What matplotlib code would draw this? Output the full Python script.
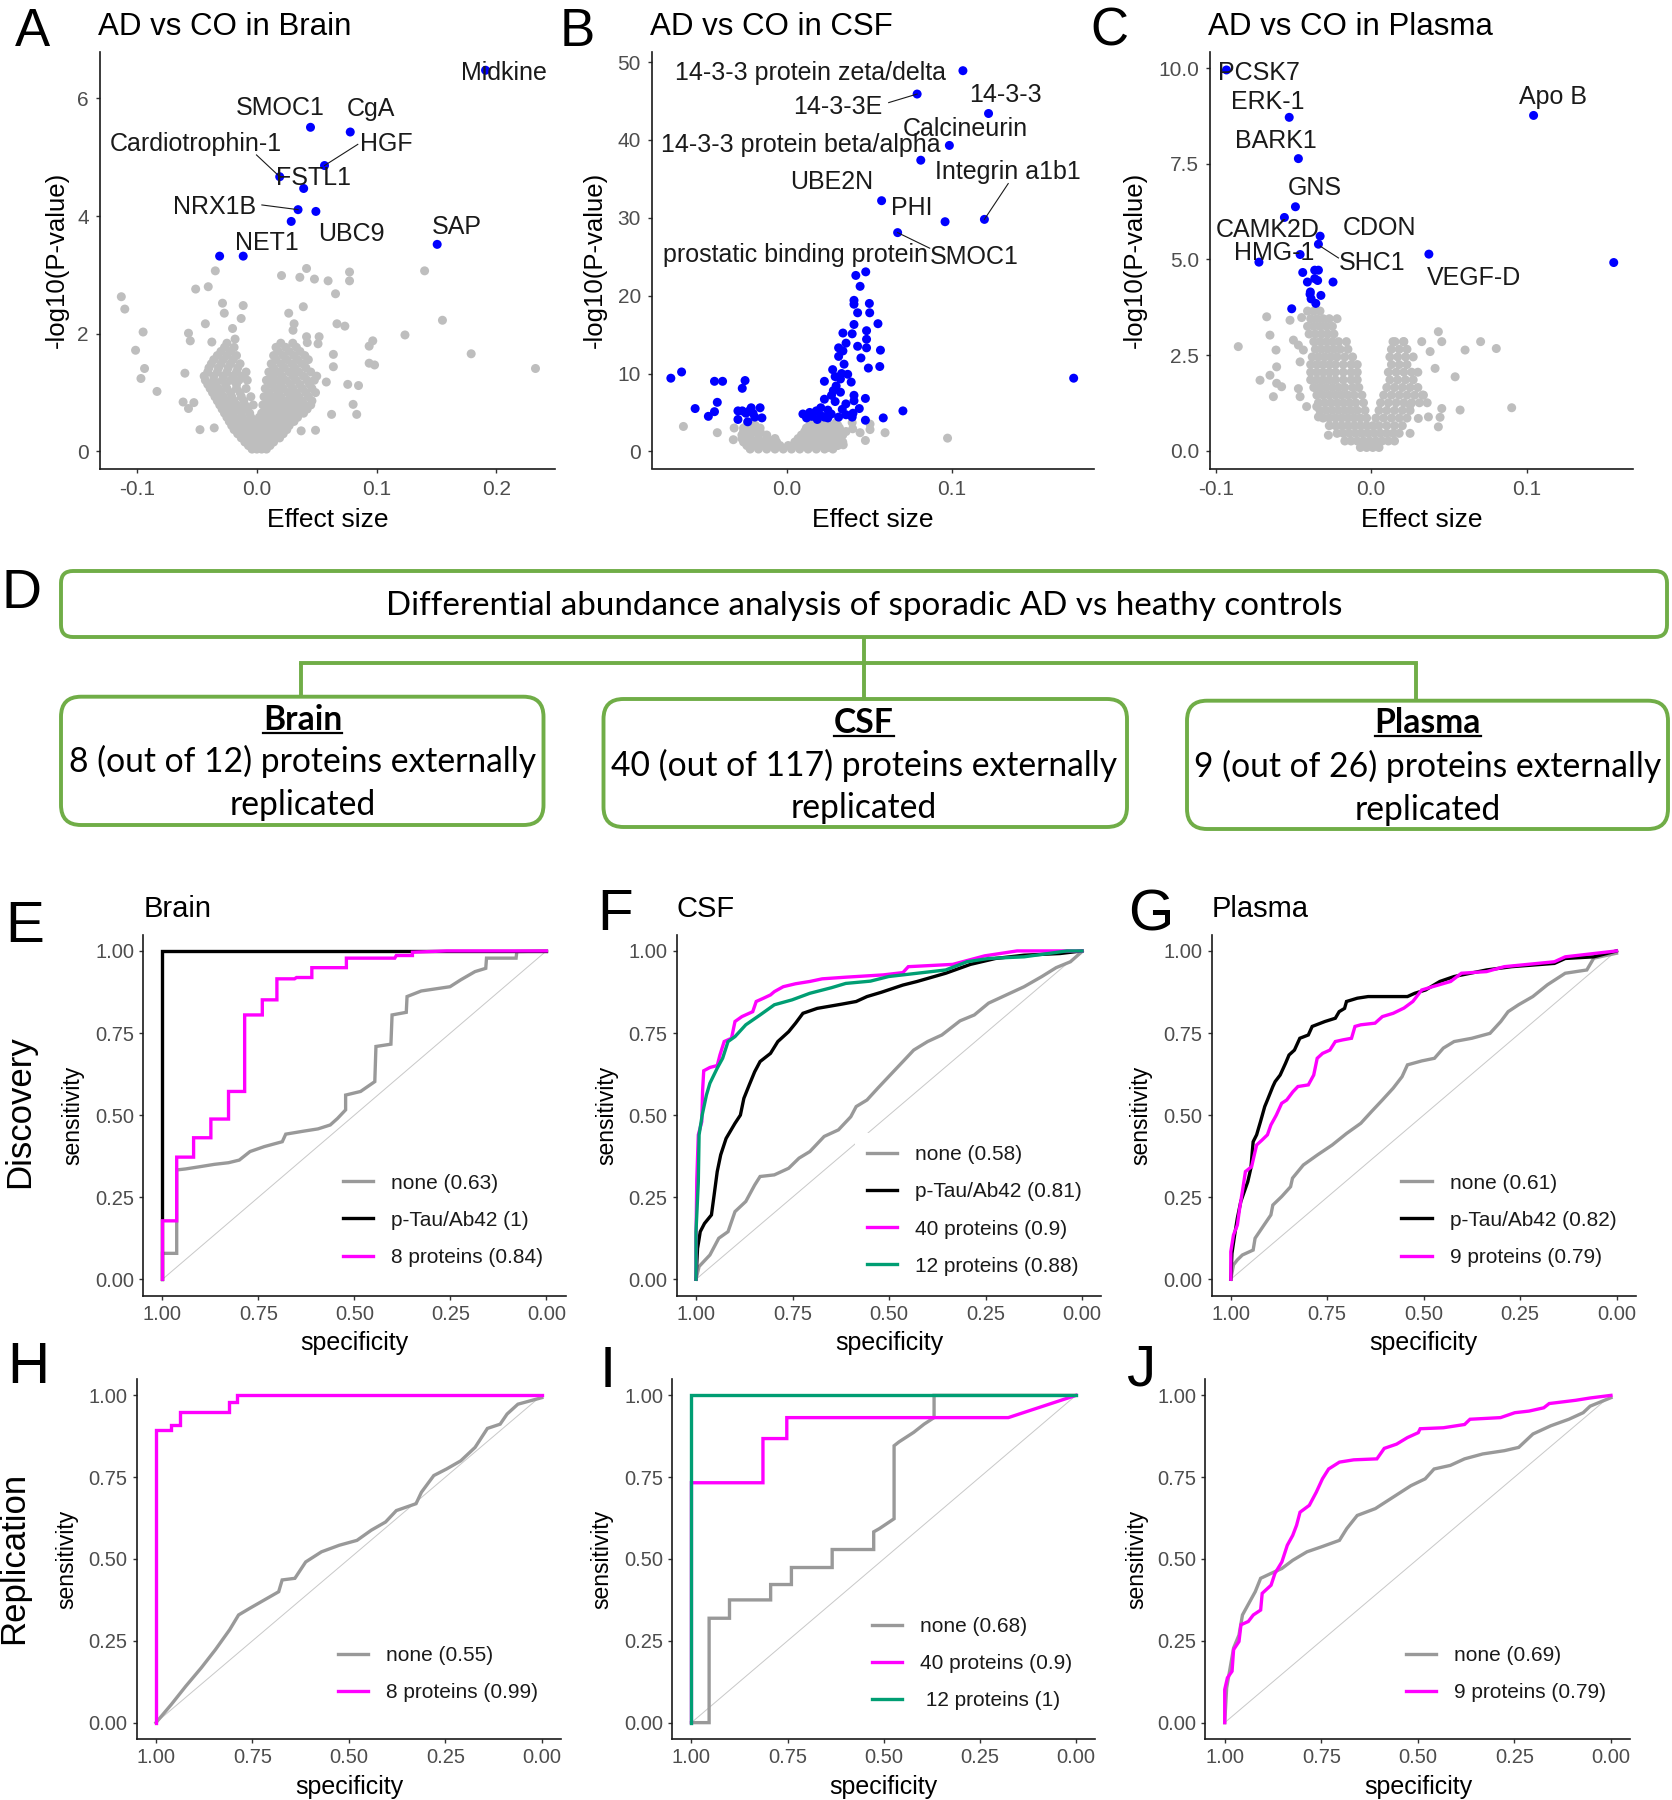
import matplotlib
matplotlib.use("Agg")
import matplotlib.pyplot as plt
from matplotlib.patches import FancyBboxPatch

plt.rcParams['font.family'] = ['Liberation Sans', 'DejaVu Sans']

W, H = 1672, 1800
fig = plt.figure(figsize=(W / 100, H / 100), dpi=100)
fig.patch.set_facecolor('white')

# ---------------------------------------------------------------- DATA
# Panel A (Brain volcano): effect size, -log10(p)
A_grey = [(-0.1132, 2.63), (-0.1103, 2.42), (-0.095, 2.03), (-0.1013, 1.72), (-0.0938, 1.41),
          (-0.0968, 1.24), (-0.0834, 1.02), (-0.0347, 3.07), (-0.0511, 2.76), (-0.0406, 2.80),
          (-0.043, 2.17), (-0.0571, 2.01), (-0.0556, 1.88), (-0.0376, 1.86), (-0.0601, 1.33),
          (-0.0616, 0.84), (-0.0526, 0.83), (-0.0571, 0.73), (-0.0475, 0.37), (-0.0356, 0.40),
          (-0.0287, 2.52), (-0.0272, 2.35), (-0.0114, 2.48), (-0.0131, 2.26), (-0.0203, 2.09),
          (-0.0182, 1.91), (0.0206, 2.99), (0.0359, 2.96), (0.0415, 3.11), (0.0481, 2.93),
          (0.0595, 2.90), (0.0774, 3.05), (0.0774, 2.90), (0.0657, 2.68), (0.0266, 2.35),
          (0.0388, 2.46), (0.0311, 2.17), (0.0302, 2.06), (0.0669, 2.17), (0.0735, 2.13),
          (0.0415, 1.95), (0.052, 1.95), (0.0421, 1.85), (0.0511, 1.83), (0.0968, 1.88),
          (0.0938, 1.79), (0.1401, 3.07), (0.155, 2.23), (0.1237, 1.98), (0.179, 1.66),
          (0.2327, 1.41), (0.0938, 1.50), (0.0983, 1.47), (0.0639, 1.65), (0.0639, 1.44),
          (0.0759, 1.14), (0.0849, 1.12), (0.0804, 0.80), (0.0834, 0.63), (0.0624, 0.63),
          (0.049, 0.36), (0.037, 0.35), (0.058, 1.18)]
A_cloud = [
    (0.04, [-0.004, 0.000, 0.004, 0.008]),
    (0.10, [-0.007, -0.001, 0.005, 0.011]),
    (0.16, [-0.010, -0.004, 0.002, 0.008, 0.014]),
    (0.23, [-0.013, -0.007, -0.001, 0.006, 0.013, 0.019]),
    (0.30, [-0.016, -0.010, -0.004, 0.003, 0.010, 0.017, 0.022]),
    (0.37, [-0.019, -0.013, -0.006, 0.000, 0.007, 0.014, 0.020, 0.025]),
    (0.44, [-0.021, -0.015, -0.009, -0.003, 0.003, 0.009, 0.015, 0.021, 0.027]),
    (0.51, [-0.023, -0.016, -0.009, -0.002, 0.005, 0.011, 0.018, 0.025, 0.031]),
    (0.58, [-0.025, -0.019, -0.012, -0.005, 0.002, 0.008, 0.014, 0.021, 0.028, 0.034]),
    (0.65, [-0.027, -0.020, -0.013, -0.006, 0.004, 0.011, 0.018, 0.025, 0.032, 0.039]),
    (0.72, [-0.029, -0.022, -0.015, -0.008, 0.008, 0.015, 0.022, 0.029, 0.036, 0.042]),
    (0.79, [-0.031, -0.024, -0.017, -0.010, -0.003, 0.005, 0.012, 0.019, 0.026, 0.033, 0.040, 0.045]),
    (0.86, [-0.033, -0.026, -0.019, -0.011, 0.009, 0.016, 0.024, 0.031, 0.038, 0.046]),
    (0.93, [-0.035, -0.028, -0.021, -0.013, -0.005, 0.006, 0.013, 0.020, 0.028, 0.035, 0.043]),
    (1.00, [-0.037, -0.030, -0.022, -0.014, 0.010, 0.018, 0.026, 0.033, 0.041, 0.049]),
    (1.07, [-0.039, -0.032, -0.025, -0.017, -0.009, 0.007, 0.015, 0.022, 0.030, 0.038, 0.046]),
    (1.14, [-0.041, -0.034, -0.026, -0.017, 0.012, 0.020, 0.028, 0.036, 0.044]),
    (1.21, [-0.043, -0.036, -0.029, -0.022, -0.015, -0.008, 0.008, 0.016, 0.024, 0.033, 0.042, 0.048]),
    (1.28, [-0.044, -0.036, -0.028, -0.020, -0.012, 0.013, 0.021, 0.030, 0.039, 0.050]),
    (1.35, [-0.041, -0.033, -0.025, -0.017, -0.009, 0.010, 0.018, 0.027, 0.035, 0.045]),
    (1.42, [-0.040, -0.032, -0.024, -0.016, 0.014, 0.023, 0.032, 0.041]),
    (1.49, [-0.038, -0.030, -0.022, -0.014, 0.012, 0.020, 0.029, 0.038]),
    (1.56, [-0.036, -0.028, -0.020, 0.016, 0.025, 0.034, 0.043]),
    (1.63, [-0.033, -0.025, -0.017, 0.014, 0.022, 0.031, 0.040]),
    (1.70, [-0.030, -0.022, 0.018, 0.027, 0.036]),
    (1.77, [-0.027, -0.019, 0.016, 0.024, 0.033]),
    (1.84, [-0.025, 0.020, 0.030]),
]
A_blue = [(0.191, 6.48), (0.0448, 5.51), (0.078, 5.43), (0.0565, 4.86), (0.0191, 4.67),
          (0.0391, 4.47), (0.0344, 4.11), (0.0493, 4.08), (0.0287, 3.91), (0.1506, 3.52),
          (-0.0311, 3.32), (-0.0114, 3.32)]
A_names = ["Midkine", "SMOC1", "CgA", "Cardiotrophin-1", "HGF", "FSTL1", "NRX1B", "UBC9", "NET1", "SAP"]

# Panel B (CSF volcano)
B_grey = [(-0.0624, 3.2), (-0.0419, 2.4), (-0.0322, 1.5), (-0.0317, 3.0), (0.0343, 0.84),
          (0.0397, 3.7), (0.0445, 2.4), (0.0477, 1.4), (0.0505, 2.8), (0.0596, 2.4),
          (0.0974, 1.7), (0.025, 0.5), (0.0505, 3.5), (0.040, 2.9)]
B_cloud = [
    (0.3, [-0.022, -0.017, -0.012, -0.007, -0.002, 0.003, 0.008, 0.013, 0.018, 0.023, 0.028]),
    (0.75, [-0.024, -0.019, -0.014, -0.009, -0.004, 0.001, 0.006, 0.011, 0.016, 0.021, 0.026, 0.031]),
    (1.2, [-0.026, -0.021, -0.016, -0.011, -0.006, 0.005, 0.010, 0.015, 0.020, 0.025, 0.030, 0.034]),
    (1.65, [-0.027, -0.022, -0.017, -0.012, -0.007, 0.007, 0.012, 0.017, 0.022, 0.027, 0.032]),
    (2.1, [-0.027, -0.022, -0.017, -0.012, 0.009, 0.014, 0.019, 0.024, 0.029, 0.034]),
    (2.55, [-0.026, -0.021, -0.016, 0.011, 0.016, 0.021, 0.026, 0.031, 0.036]),
    (3.0, [-0.026, -0.021, -0.016, 0.012, 0.017, 0.022, 0.027, 0.032]),
    (3.35, [-0.024, -0.019, 0.014, 0.020, 0.026, 0.031]),
    (3.7, [-0.021, 0.016, 0.023, 0.030]),
]
B_blue = [(0.1067, 48.9), (0.079, 45.9), (0.1222, 43.4), (0.0985, 39.3), (0.0812, 37.4),
          (0.0575, 32.2), (0.0959, 29.5), (0.1197, 29.8), (0.0672, 28.1),
          (0.0479, 23.06), (0.0419, 22.6), (0.0445, 21.2), (0.0408, 19.4), (0.0408, 18.9),
          (0.0501, 19.0), (0.043, 17.8), (0.0503, 17.8), (0.0553, 16.4), (0.0408, 16.3),
          (0.0484, 15.5), (0.0341, 15.2), (0.0397, 15.1), (0.0484, 14.4), (0.043, 13.5),
          (0.0484, 13.3), (0.0315, 13.3), (0.0341, 12.9), (0.0568, 13.0), (0.0315, 12.2),
          (0.0348, 11.2), (0.0564, 10.9), (0.0495, 10.7), (0.0279, 10.5), (0.0333, 10.0),
          (0.0294, 9.6), (0.0326, 9.3), (0.0391, 8.9), (0.0229, 9.0), (0.0283, 7.8),
          (0.0326, 7.6), (0.0272, 7.2), (0.0408, 7.2), (0.0229, 6.7), (0.0477, 6.8),
          (0.0408, 6.5), (0.0294, 6.4), (0.0359, 6.1), (0.0207, 5.6), (0.0704, 5.2),
          (0.025, 5.3), (0.0337, 5.4), (0.0402, 4.9), (0.0099, 4.8), (0.0153, 4.5),
          (0.0207, 4.6), (0.0585, 4.3), (0.025, 4.3), (0.0315, 4.4), (0.0477, 4.0),
          (0.0121, 4.3), (0.0186, 4.1), (0.0229, 4.4), (0.0397, 4.4), (0.1737, 9.4),
          (0.014, 5.0), (0.018, 5.2), (0.027, 4.8), (0.036, 4.7), (0.044, 5.5),
          (0.030, 8.4), (0.037, 9.9), (0.045, 12.0), (0.036, 13.9),
          (-0.07, 9.4), (-0.0635, 10.2), (-0.0553, 5.5), (-0.0473, 4.5), (-0.0436, 9.0),
          (-0.0387, 9.0), (-0.0419, 6.3), (-0.0436, 5.1), (-0.0251, 9.1), (-0.0268, 8.1),
          (-0.0294, 5.2), (-0.0294, 4.1), (-0.0246, 4.9), (-0.0235, 3.8), (-0.0214, 5.6),
          (-0.0203, 4.9), (-0.016, 5.6), (-0.0149, 4.3), (-0.0192, 4.4), (-0.0225, 5.2),
          (-0.0268, 5.2)]
B_names = ["14-3-3 protein zeta/delta", "14-3-3E", "14-3-3", "Calcineurin",
           "14-3-3 protein beta/alpha", "Integrin a1b1", "UBE2N", "PHI",
           "prostatic binding protein", "SMOC1"]

# Panel C (Plasma volcano)
C_grey = [(-0.0673, 3.50), (-0.0523, 3.41), (-0.0448, 3.48), (-0.0652, 3.02), (-0.0856, 2.72),
          (-0.0613, 2.63), (-0.0501, 2.89), (-0.0469, 2.76), (-0.0437, 2.63), (-0.0458, 2.32),
          (-0.0609, 2.19), (-0.0652, 1.97), (-0.0716, 1.84), (-0.0609, 1.76), (-0.0577, 1.67),
          (-0.0469, 1.62), (-0.063, 1.41), (-0.0458, 1.41), (-0.0416, 1.15), (-0.0351, 1.15),
          (-0.034, 0.88), (-0.0276, 0.40),
          (0.0153, 2.85), (0.0207, 2.85), (0.0325, 2.85), (0.0432, 3.11), (0.0454, 2.85),
          (0.0379, 2.59), (0.0411, 2.15), (0.0604, 2.63), (0.0540, 1.93), (0.0336, 1.45),
          (0.0454, 1.10), (0.0572, 1.06), (0.0303, 0.84), (0.0368, 0.88), (0.0443, 0.87),
          (0.0432, 0.62), (0.0250, 0.45), (0.0250, 1.19),
          (0.0704, 2.85), (0.0805, 2.67), (0.0904, 1.12)]
C_cloud = [
    (3.65, [-0.041, -0.037, -0.033]),
    (3.45, [-0.039, -0.035, -0.031, -0.027, -0.022]),
    (3.25, [-0.041, -0.037, -0.033, -0.029, -0.025]),
    (3.05, [-0.040, -0.036, -0.032, -0.028, -0.024]),
    (2.85, [-0.037, -0.033, -0.029, -0.025, -0.021, -0.016, 0.014, 0.021]),
    (2.65, [-0.036, -0.032, -0.028, -0.024, -0.020, -0.015, 0.013, 0.018, 0.023]),
    (2.45, [-0.038, -0.034, -0.030, -0.026, -0.022, -0.017, -0.012, 0.012, 0.017, 0.022, 0.027]),
    (2.25, [-0.039, -0.035, -0.031, -0.027, -0.023, -0.018, -0.013, -0.009, 0.013, 0.018, 0.023]),
    (2.05, [-0.039, -0.035, -0.031, -0.027, -0.023, -0.018, -0.013, -0.009, 0.011, 0.016, 0.021,
            0.026, 0.030]),
    (1.85, [-0.039, -0.035, -0.031, -0.027, -0.023, -0.018, -0.013, -0.009, 0.012, 0.017, 0.022, 0.027]),
    (1.65, [-0.037, -0.033, -0.029, -0.025, -0.021, -0.017, -0.012, -0.008, 0.010, 0.015, 0.020,
            0.025, 0.030]),
    (1.45, [-0.035, -0.031, -0.027, -0.023, -0.019, -0.015, -0.011, -0.006, 0.008, 0.013, 0.018,
            0.023, 0.028, 0.033]),
    (1.25, [-0.034, -0.030, -0.026, -0.022, -0.018, -0.014, -0.010, -0.005, 0.006, 0.011, 0.016,
            0.021, 0.026, 0.031, 0.036]),
    (1.05, [-0.033, -0.029, -0.025, -0.021, -0.017, -0.013, -0.009, -0.004, 0.005, 0.010, 0.015,
            0.020, 0.025]),
    (0.85, [-0.031, -0.027, -0.023, -0.019, -0.015, -0.011, -0.007, -0.003, 0.003, 0.008, 0.013,
            0.018, 0.023]),
    (0.65, [-0.027, -0.023, -0.019, -0.015, -0.011, -0.007, -0.003, 0.001, 0.005, 0.010, 0.015, 0.020]),
    (0.45, [-0.022, -0.018, -0.014, -0.010, -0.006, -0.002, 0.002, 0.006, 0.010, 0.014, 0.018]),
    (0.25, [-0.017, -0.013, -0.009, -0.005, -0.001, 0.003, 0.007, 0.011, 0.015]),
    (0.08, [-0.007, -0.003, 0.001, 0.005]),
]
C_blue = [(-0.0932, 9.96), (-0.0528, 8.72), (-0.0469, 7.64), (-0.0488, 6.38), (-0.0559, 6.10),
          (-0.0329, 5.61), (-0.034, 5.40), (-0.0723, 4.93), (-0.0458, 5.13), (0.0371, 5.14),
          (0.1045, 8.77), (0.1561, 4.92), (-0.0441, 4.66), (-0.0364, 4.72), (-0.034, 4.72),
          (-0.0411, 4.41), (-0.0345, 4.45), (-0.0246, 4.41), (-0.0392, 4.15), (-0.0324, 4.06),
          (-0.0387, 3.97), (-0.0357, 3.85), (-0.0512, 3.71), (-0.0394, 4.09), (-0.0364, 4.50)]
C_names = ["PCSK7", "ERK-1", "BARK1", "GNS", "CAMK2D", "CDON", "HMG-1", "SHC1", "VEGF-D", "Apo B"]

# ROC curves: (specificity, sensitivity)
E_none = ([1, 1, 0.963, 0.963, 0.94, 0.902, 0.865, 0.828, 0.8, 0.772, 0.735, 0.688, 0.679, 0.633, 0.595,
           0.563, 0.544, 0.523, 0.523, 0.484, 0.447, 0.444, 0.405, 0.402, 0.365, 0.363, 0.326, 0.251,
           0.223, 0.186, 0.158, 0.156, 0.079, 0.077, 0],
          [0, 0.079, 0.079, 0.333, 0.336, 0.343, 0.35, 0.355, 0.363, 0.389, 0.404, 0.419, 0.442, 0.451,
           0.458, 0.47, 0.49, 0.516, 0.561, 0.572, 0.602, 0.709, 0.716, 0.805, 0.813, 0.861, 0.878, 0.891,
           0.912, 0.937, 0.947, 0.978, 0.978, 0.998, 1])
E_ptau = ([1, 1, 0], [0, 1, 1])
E_prot = ([1, 1, 0.963, 0.963, 0.919, 0.919, 0.874, 0.874, 0.828, 0.828, 0.786, 0.786, 0.74, 0.74,
           0.702, 0.702, 0.656, 0.651, 0.611, 0.611, 0.521, 0.521, 0.395, 0.391, 0.349, 0.349, 0.26, 0],
          [0, 0.178, 0.178, 0.372, 0.372, 0.431, 0.431, 0.488, 0.488, 0.572, 0.572, 0.805, 0.805, 0.851,
           0.851, 0.915, 0.915, 0.919, 0.919, 0.949, 0.949, 0.978, 0.978, 0.986, 0.986, 0.996, 1.0, 1.0])
E_labels = ["none (0.63)", "p-Tau/Ab42 (1)", "8 proteins (0.84)"]

F_none = ([1, 0.992, 0.964, 0.941, 0.917, 0.899, 0.871, 0.848, 0.834, 0.797, 0.76, 0.733, 0.705, 0.668,
           0.631, 0.599, 0.585, 0.557, 0.529, 0.501, 0.464, 0.436, 0.4, 0.363, 0.316, 0.279, 0.242, 0.196,
           0.15, 0.104, 0.067, 0.03, 0],
          [0, 0.039, 0.074, 0.125, 0.145, 0.206, 0.237, 0.287, 0.313, 0.318, 0.338, 0.369, 0.389, 0.435,
           0.455, 0.495, 0.526, 0.546, 0.582, 0.617, 0.663, 0.698, 0.724, 0.744, 0.787, 0.805, 0.841,
           0.866, 0.891, 0.922, 0.949, 0.967, 0.998])
F_ptau = ([1, 0.996, 0.989, 0.978, 0.96, 0.953, 0.945, 0.936, 0.922, 0.899, 0.885, 0.876, 0.862, 0.848,
           0.834, 0.807, 0.788, 0.76, 0.742, 0.723, 0.686, 0.622, 0.585, 0.557, 0.52, 0.464, 0.427, 0.353,
           0.289, 0.224, 0.15, 0.057, 0],
          [0, 0.094, 0.145, 0.17, 0.196, 0.257, 0.328, 0.379, 0.429, 0.475, 0.5, 0.551, 0.592, 0.632,
           0.663, 0.688, 0.724, 0.754, 0.78, 0.81, 0.825, 0.838, 0.846, 0.861, 0.874, 0.896, 0.907, 0.932,
           0.959, 0.977, 0.987, 0.992, 1])
F_p40 = ([1, 1, 0.998, 0.994, 0.985, 0.983, 0.98, 0.964, 0.945, 0.938, 0.927, 0.908, 0.899, 0.881, 0.853,
          0.844, 0.825, 0.807, 0.797, 0.774, 0.742, 0.705, 0.673, 0.612, 0.515, 0.464, 0.45, 0.335, 0.252,
          0.168, 0],
         [0, 0.115, 0.303, 0.44, 0.48, 0.572, 0.635, 0.645, 0.651, 0.683, 0.724, 0.734, 0.785, 0.8, 0.815,
          0.846, 0.856, 0.866, 0.876, 0.891, 0.9, 0.907, 0.915, 0.92, 0.927, 0.934, 0.952, 0.959, 0.985,
          1.0, 1.0])
F_p12 = ([1, 1, 0.994, 0.992, 0.984, 0.973, 0.964, 0.945, 0.931, 0.917, 0.899, 0.871, 0.834, 0.797, 0.751,
          0.705, 0.649, 0.612, 0.548, 0.501, 0.427, 0.353, 0.298, 0.242, 0.15, 0.039, 0],
         [0, 0.145, 0.297, 0.44, 0.5, 0.561, 0.597, 0.643, 0.673, 0.724, 0.739, 0.775, 0.805, 0.836, 0.851,
          0.871, 0.888, 0.901, 0.908, 0.922, 0.932, 0.942, 0.967, 0.977, 0.982, 1.0, 1.0])
F_labels = ["none (0.58)", "p-Tau/Ab42 (0.81)", "40 proteins (0.9)", "12 proteins (0.88)"]

G_none = ([1, 0.993, 0.983, 0.97, 0.942, 0.937, 0.914, 0.896, 0.891, 0.868, 0.845, 0.84, 0.812, 0.775,
           0.737, 0.7, 0.663, 0.635, 0.607, 0.579, 0.556, 0.542, 0.505, 0.472, 0.449, 0.421, 0.375, 0.328,
           0.3, 0.281, 0.254, 0.217, 0.179, 0.133, 0.077, 0.059, 0],
          [0, 0.044, 0.059, 0.074, 0.089, 0.125, 0.165, 0.196, 0.226, 0.252, 0.282, 0.308, 0.348, 0.379,
           0.409, 0.444, 0.475, 0.511, 0.546, 0.582, 0.617, 0.653, 0.665, 0.673, 0.704, 0.724, 0.734,
           0.749, 0.785, 0.815, 0.836, 0.861, 0.897, 0.932, 0.942, 0.978, 0.993])
G_ptau = ([1, 0.997, 0.99, 0.983, 0.974, 0.965, 0.956, 0.948, 0.942, 0.933, 0.923, 0.912, 0.905, 0.891,
           0.885, 0.872, 0.858, 0.849, 0.835, 0.821, 0.799, 0.789, 0.756, 0.729, 0.719, 0.705, 0.7, 0.672,
           0.644, 0.542, 0.523, 0.495, 0.458, 0.421, 0.337, 0.272, 0.161, 0.133, 0.059, 0],
          [0, 0.079, 0.135, 0.186, 0.237, 0.267, 0.297, 0.338, 0.419, 0.44, 0.48, 0.526, 0.546, 0.587,
           0.602, 0.622, 0.658, 0.683, 0.698, 0.734, 0.744, 0.77, 0.785, 0.795, 0.815, 0.825, 0.846, 0.856,
           0.861, 0.861, 0.871, 0.881, 0.907, 0.922, 0.942, 0.952, 0.962, 0.977, 0.982, 1])
G_prot = ([1, 1, 0.993, 0.983, 0.977, 0.97, 0.962, 0.946, 0.939, 0.933, 0.919, 0.905, 0.896, 0.882, 0.868,
           0.855, 0.839, 0.826, 0.799, 0.785, 0.776, 0.762, 0.743, 0.729, 0.71, 0.687, 0.678, 0.663, 0.626,
           0.607, 0.579, 0.551, 0.528, 0.505, 0.477, 0.43, 0.402, 0.337, 0.291, 0.161, 0.133, 0],
          [0, 0.084, 0.135, 0.165, 0.216, 0.267, 0.328, 0.343, 0.379, 0.409, 0.424, 0.44, 0.47, 0.5, 0.536,
           0.546, 0.571, 0.587, 0.592, 0.622, 0.673, 0.688, 0.698, 0.724, 0.729, 0.734, 0.77, 0.775, 0.78,
           0.8, 0.81, 0.826, 0.846, 0.881, 0.891, 0.907, 0.932, 0.937, 0.952, 0.967, 0.982, 1])
G_labels = ["none (0.61)", "p-Tau/Ab42 (0.82)", "9 proteins (0.79)"]

H_none = ([1, 0.96, 0.923, 0.883, 0.846, 0.809, 0.786, 0.756, 0.719, 0.682, 0.673, 0.64, 0.612, 0.571,
           0.525, 0.479, 0.442, 0.405, 0.377, 0.326, 0.312, 0.28, 0.247, 0.21, 0.173, 0.141, 0.108, 0.09,
           0.062, 0],
          [0, 0.056, 0.111, 0.167, 0.223, 0.284, 0.329, 0.35, 0.375, 0.4, 0.436, 0.441, 0.491, 0.522,
           0.542, 0.557, 0.588, 0.613, 0.648, 0.669, 0.704, 0.755, 0.775, 0.8, 0.841, 0.899, 0.912, 0.943,
           0.973, 0.993])
H_prot = ([1, 1, 0.96, 0.96, 0.939, 0.939, 0.81, 0.81, 0.789, 0.789, 0],
          [0, 0.894, 0.894, 0.909, 0.909, 0.949, 0.949, 0.981, 0.981, 1, 1])
H_labels = ["none (0.55)", "8 proteins (0.99)"]

I_none = ([1, 0.954, 0.954, 0.901, 0.901, 0.794, 0.794, 0.74, 0.74, 0.634, 0.634, 0.526, 0.526, 0.511,
           0.492, 0.473, 0.473, 0.46, 0.422, 0.395, 0.369, 0.369, 0],
          [0, 0, 0.319, 0.319, 0.375, 0.375, 0.422, 0.422, 0.474, 0.474, 0.529, 0.529, 0.583, 0.593,
           0.608, 0.623, 0.846, 0.858, 0.887, 0.912, 0.932, 1, 1])
I_p40 = ([1, 1, 0.814, 0.814, 0.752, 0.752, 0.176, 0],
         [0, 0.733, 0.733, 0.868, 0.868, 0.932, 0.932, 1])
I_p12 = ([1, 1, 0], [0, 1, 1])
I_labels = ["none (0.68)", "40 proteins (0.9)", " 12 proteins (1)"]

J_none = ([1, 0.995, 0.986, 0.977, 0.963, 0.954, 0.935, 0.921, 0.907, 0.88, 0.852, 0.824, 0.787, 0.75,
           0.703, 0.684, 0.657, 0.61, 0.564, 0.518, 0.481, 0.458, 0.416, 0.379, 0.332, 0.276, 0.239,
           0.202, 0.156, 0.109, 0.072, 0.054, 0],
          [0, 0.106, 0.167, 0.228, 0.268, 0.329, 0.37, 0.4, 0.441, 0.456, 0.471, 0.496, 0.522, 0.537,
           0.557, 0.593, 0.633, 0.654, 0.689, 0.724, 0.745, 0.775, 0.786, 0.806, 0.821, 0.831, 0.841,
           0.882, 0.907, 0.927, 0.947, 0.967, 0.993])
J_prot = ([1, 1, 0.993, 0.981, 0.977, 0.963, 0.958, 0.939, 0.926, 0.907, 0.903, 0.88, 0.87, 0.852, 0.838,
           0.824, 0.814, 0.805, 0.781, 0.763, 0.747, 0.731, 0.703, 0.666, 0.606, 0.587, 0.555, 0.527,
           0.499, 0.494, 0.434, 0.379, 0.365, 0.286, 0.249, 0.212, 0.174, 0.16, 0.091, 0.054, 0],
          [0, 0.101, 0.137, 0.157, 0.223, 0.248, 0.299, 0.309, 0.329, 0.344, 0.395, 0.42, 0.456, 0.491,
           0.542, 0.572, 0.603, 0.643, 0.664, 0.704, 0.745, 0.775, 0.796, 0.803, 0.806, 0.838, 0.851,
           0.871, 0.886, 0.898, 0.901, 0.911, 0.927, 0.932, 0.947, 0.952, 0.962, 0.975, 0.985, 0.992, 1])
J_labels = ["none (0.69)", "9 proteins (0.79)"]

roc_ticks = [1.0, 0.75, 0.5, 0.25, 0.0]
roc_ticklabels = ["1.00", "0.75", "0.50", "0.25", "0.00"]

flow_top = "Differential abundance analysis of sporadic AD vs heathy controls"
flow_tissues = ["Brain", "CSF", "Plasma"]
flow_counts = ["8 (out of 12) proteins externally", "40 (out of 117) proteins externally",
               "9 (out of 26) proteins externally"]

# ---------------------------------------------------------------- STYLE / LAYOUT
GREY_PT = '#BEBEBE'
BLUE = '#0000FF'
TICKC = '#4D4D4D'
C_NONE = '#999999'
C_PTAU = '#000000'
C_MAG = '#FF00FF'
C_GRN = '#009E73'
GREEN_BOX = '#70AD47'
PT_SIZE = 42


def axpx(l, t, r, b):
    return fig.add_axes([l / W, 1 - b / H, (r - l) / W, (b - t) / H])


def ftext(x, y, s, **kw):
    return fig.text(x / W, 1 - y / H, s, **kw)


def unzip(pts):
    return [p[0] for p in pts], [p[1] for p in pts]


def expand(rows):
    xs, ys = [], []
    for y, xl in rows:
        for x in xl:
            xs.append(x)
            ys.append(y)
    return xs, ys


def style_axes(ax, pad):
    for s in ['top', 'right']:
        ax.spines[s].set_visible(False)
    for s in ['left', 'bottom']:
        ax.spines[s].set_linewidth(1.2)
        ax.spines[s].set_color('#1a1a1a')
    ax.tick_params(labelcolor=TICKC, color='#333333', length=3, width=1.0, pad=pad)
    ax.set_facecolor('none')


def volcano(box, grey, cloud, blue, names, lpos, segs, xlim, ylim, xt, xtl, yt, ytl,
            title, letter, letter_x, ylab_x):
    ax = axpx(*box)
    gx, gy = unzip(grey)
    cx, cy = expand(cloud)
    ax.scatter(cx + gx, cy + gy, s=PT_SIZE, c=GREY_PT, edgecolors='none', zorder=2)
    bx, by = unzip(blue)
    ax.scatter(bx, by, s=PT_SIZE, c=BLUE, edgecolors='none', zorder=3)
    for (x0, y0, x1, y1) in segs:
        ax.plot([x0, x1], [y0, y1], color='#1a1a1a', lw=0.8, zorder=3)
    for nm, (lx, ly) in zip(names, lpos):
        ax.text(lx, ly, nm, fontsize=18, ha='center', va='center', color='#1a1a1a', zorder=4)
    ax.set_xlim(*xlim)
    ax.set_ylim(*ylim)
    ax.set_xticks(xt)
    ax.set_xticklabels(xtl, fontsize=15)
    ax.set_yticks(yt)
    ax.set_yticklabels(ytl, fontsize=15)
    style_axes(ax, 5)
    l, t, r, b = box
    ftext(l - 2, 35, title, fontsize=22.5, ha='left', va='baseline')
    ftext(letter_x, 46, letter, fontsize=38, ha='left', va='baseline')
    ftext((l + r) / 2, 520, "Effect size", fontsize=19, ha='center', va='center')
    ftext(ylab_x, (t + b) / 2, "-log10(P-value)", fontsize=18.5, ha='center', va='center',
          rotation=90)
    return ax


def roc(box, curves, labels, anchor, letter, letter_pos, ylab_x, xlab_y, title=None):
    ax = axpx(*box)
    ax.plot([1, 0], [0, 1], color='#C8C8C8', lw=0.7, zorder=1)
    handles = []
    for (spec, sens), col in curves:
        h, = ax.plot(spec, sens, color=col, lw=2.4, zorder=2, solid_joinstyle='miter')
        handles.append(h)
    ax.set_xlim(1.05, -0.05)
    ax.set_ylim(-0.05, 1.05)
    ax.set_xticks(roc_ticks)
    ax.set_xticklabels(roc_ticklabels, fontsize=14.5)
    ax.set_yticks(roc_ticks)
    ax.set_yticklabels(roc_ticklabels, fontsize=14.5)
    style_axes(ax, 3.5)
    ax.legend(handles, labels, loc='center left', bbox_to_anchor=anchor, frameon=True,
              facecolor='white', edgecolor='none', framealpha=1, fancybox=False,
              borderpad=0.6, borderaxespad=0, handlelength=1.45, handletextpad=0.87,
              labelspacing=0.87, fontsize=15, labelcolor='#1a1a1a')
    l, t, r, b = box
    if title:
        ftext(l, 917, title, fontsize=21, ha='left', va='baseline')
    ftext(letter_pos[0], letter_pos[1], letter, fontsize=42, ha='left', va='baseline')
    ftext((l + r) / 2, xlab_y, "specificity", fontsize=18, ha='center', va='center')
    ftext(ylab_x, (t + b) / 2, "sensitivity", fontsize=16.5, ha='center', va='center', rotation=90)
    return ax


# ---------------------------------------------------------------- VOLCANOES
volcano((100, 52, 555, 468.5), A_grey, A_cloud, A_blue, A_names,
        [(0.2065, 6.43), (0.0197, 5.84), (0.0953, 5.82), (-0.0511, 5.22), (0.1079, 5.22),
         (0.0475, 4.64), (-0.0353, 4.16), (0.0789, 3.69), (0.0081, 3.54), (0.167, 3.82)],
        [(-0.0003, 5.04, 0.0191, 4.67), (0.0565, 4.86, 0.0843, 5.22), (0.0042, 4.19, 0.0344, 4.11)],
        (-0.131, 0.249), (-0.29, 6.79), [-0.1, 0, 0.1, 0.2], ['-0.1', '0.0', '0.1', '0.2'],
        [0, 2, 4, 6], ['0', '2', '4', '6'], "AD vs CO in Brain", "A", 15, 57)

volcano((652, 52, 1094, 468.5), B_grey, B_cloud, B_blue, B_names,
        [(0.0146, 48.6), (0.0311, 44.2), (0.1326, 45.8), (0.1082, 41.4), (0.0084, 39.3),
         (0.1341, 35.9), (0.0276, 34.6), (0.0758, 31.2), (0.0056, 25.2), (0.1136, 25.0)],
        [(0.0618, 44.8, 0.079, 45.9), (0.1197, 29.8, 0.1341, 34.4), (0.0672, 28.1, 0.0866, 26.1)],
        (-0.0814, 0.186), (-2.2, 51.3), [0, 0.1], ['0.0', '0.1'],
        [0, 10, 20, 30, 40, 50], ['0', '10', '20', '30', '40', '50'], "AD vs CO in CSF", "B", 560, 595)

volcano((1210, 52, 1633, 468.5), C_grey, C_cloud, C_blue, C_names,
        [(-0.0721, 9.87), (-0.0664, 9.13), (-0.0617, 8.11), (-0.0364, 6.86), (-0.0664, 5.76),
         (0.0054, 5.83), (-0.0627, 5.17), (0.0007, 4.92), (0.0664, 4.51), (0.1169, 9.26)],
        [(-0.0329, 5.35, -0.0211, 5.04)],
        (-0.1038, 0.1685), (-0.47, 10.43), [-0.1, 0, 0.1], ['-0.1', '0.0', '0.1'],
        [0, 2.5, 5, 7.5, 10], ['0.0', '2.5', '5.0', '7.5', '10.0'], "AD vs CO in Plasma", "C", 1090, 1135)

# ---------------------------------------------------------------- ROC PANELS
roc((143.3, 934.5, 565.6, 1295.7), [(E_none, C_NONE), (E_ptau, C_PTAU), (E_prot, C_MAG)], E_labels,
    (0.443, 0.209), "E", (5, 942), 73, 1343, title="Brain")
roc((676.7, 934.5, 1101.3, 1295.7),
    [(F_none, C_NONE), (F_ptau, C_PTAU), (F_p40, C_MAG), (F_p12, C_GRN)], F_labels,
    (0.419, 0.236), "F", (597, 930), 607, 1343, title="CSF")
roc((1211.5, 934.5, 1635.8, 1295.7), [(G_none, C_NONE), (G_ptau, C_PTAU), (G_prot, C_MAG)], G_labels,
    (0.418, 0.209), "G", (1128, 930), 1141, 1343, title="Plasma")
roc((136.7, 1379, 561.1, 1739), [(H_none, C_NONE), (H_prot, C_MAG)], H_labels,
    (0.444, 0.180), "H", (7, 1383), 67, 1787)
roc((672.2, 1379, 1095.2, 1739), [(I_none, C_NONE), (I_p40, C_MAG), (I_p12, C_GRN)], I_labels,
    (0.442, 0.209), "I", (600, 1387), 602, 1787)
roc((1205.4, 1379, 1630.3, 1739), [(J_none, C_NONE), (J_prot, C_MAG)], J_labels,
    (0.442, 0.180), "J", (1126, 1385), 1137, 1787)

ftext(20, 1112, "Discovery", fontsize=25, ha='center', va='center', rotation=90)
ftext(14, 1558, "Replication", fontsize=25, ha='center', va='center', rotation=90)

# ---------------------------------------------------------------- FLOWCHART (panel D)
ov = fig.add_axes([0, 0, 1, 1])
ov.set_xlim(0, W)
ov.set_ylim(H, 0)
ov.axis('off')
ov.patch.set_alpha(0)

ov.text(2, 608, "D", fontsize=40, ha='left', va='baseline')


def rbox(l, t, r, b, rad):
    p = FancyBboxPatch((l, t), r - l, b - t, boxstyle=f"round,pad=0,rounding_size={rad}",
                       facecolor='white', edgecolor=GREEN_BOX, linewidth=2.8, zorder=2)
    ov.add_patch(p)


rbox(61, 571, 1667, 637, 12)
boxes = [(61, 696.7, 543.5, 825), (603.5, 699, 1127, 827), (1187, 700.7, 1668, 829)]
for bx in boxes:
    rbox(*bx, 20)
ov.plot([864, 864], [637, 699], color=GREEN_BOX, lw=2.8, zorder=1, solid_capstyle='butt')
ov.plot([301, 1416], [662.7, 662.7], color=GREEN_BOX, lw=2.8, zorder=1, solid_capstyle='projecting')
ov.plot([301, 301], [662.7, 696.7], color=GREEN_BOX, lw=2.8, zorder=1, solid_capstyle='butt')
ov.plot([1416, 1416], [662.7, 700.7], color=GREEN_BOX, lw=2.8, zorder=1, solid_capstyle='butt')

renderer = fig.canvas.get_renderer()


def fit(t, target):
    fs = t.get_fontsize()
    w = t.get_window_extent(renderer=renderer).width
    t.set_fontsize(fs * target / w)
    return t.get_fontsize()


t0 = ov.text(864, 606, flow_top, fontsize=20, family='Lato', ha='center', va='center', zorder=3)
fit(t0, 958)
t1 = ov.text(302.5, 761.7, flow_counts[0], fontsize=20, family='Lato', ha='center', va='center', zorder=3)
fsz = fit(t1, 467)

centers = [302.5, 864, 1427.8]
title_y = [720, 722.7, 723.3]
line_y = [761.7, 765, 766.7]
rep_y = [805, 808.3, 810]
for i in range(3):
    if i > 0:
        ov.text(centers[i], line_y[i], flow_counts[i], fontsize=fsz, family='Lato', ha='center',
                va='center', zorder=3)
    tt = ov.text(centers[i], title_y[i], flow_tissues[i], fontsize=fsz, family='Lato',
                 fontweight='bold', ha='center', va='center', zorder=3)
    bb = tt.get_window_extent(renderer=renderer)
    uy = title_y[i] + 13
    ov.plot([bb.x0, bb.x1], [uy, uy], color='black', lw=1.6, zorder=3)
    ov.text(centers[i], rep_y[i], "replicated", fontsize=fsz, family='Lato', ha='center',
            va='center', zorder=3)

fig.savefig("out.png", dpi=100, facecolor='white')
